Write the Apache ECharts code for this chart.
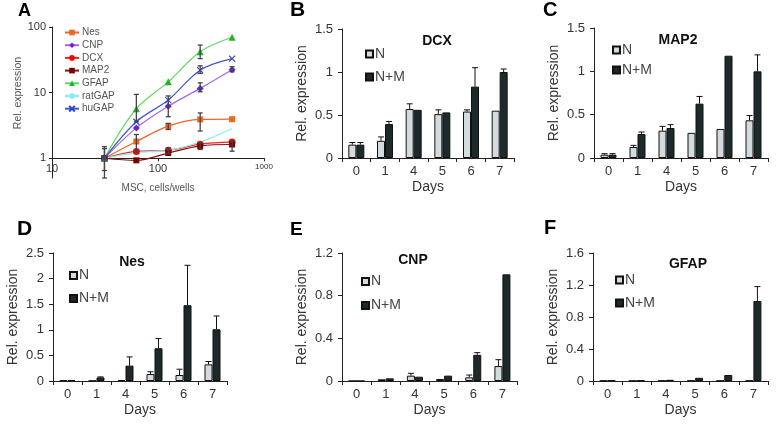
<!DOCTYPE html>
<html><head><meta charset="utf-8">
<script src="https://cdn.jsdelivr.net/npm/echarts/dist/echarts.min.js"></script>
<style>html,body{margin:0;padding:0;background:#fff}#c{width:777px;height:425px}</style>
</head><body><div id="c"></div><script>
// ---------- DATA ----------
const msc = [31.25, 62.5, 125, 250, 500];
const nesA    = [1, 1.8, 3.08, 3.9, 3.94];
const cnpA    = [1, 2.9, 6.2, 11.6, 22.3];
const dcxA    = [1, 1.27, 1.32, 1.64, 1.77];
const map2A   = [1, 0.93, 1.2, 1.54, 1.62];
const gfapA   = [1, 5.7, 14.6, 42, 69.7];
const ratgapA = [1, 1.22, 1.32, 1.77, 2.84];
const hugapA  = [1, 3.6, 7.7, 22, 33];
// error bars panel A: [cells, low, high]
const errA = [[31.25,0.5,1.5],[31.25,0.65,1.4],[62.5,3.6,9.4],[62.5,1.25,2.3],[125,4.3,8.9],[125,1.18,1.44],[125,2.74,3.4],
  [250,33,53],[250,19.6,25.6],[250,10.3,14.1],[250,2.6,4.9],[250,1.36,1.71],[500,20.8,24.8],[500,1.28,1.84]];
const xTicksA = [10, 100, 1000];
const yTicksA = [1, 10, 100];

const days = ['0','1','4','5','6','7'];
const dcxN     = [0.155, 0.20, 0.57, 0.51, 0.54, 0.55];
const dcxNErr  = [0.18, 0.245, 0.63, 0.56, 0.56, null];
const dcxNM    = [0.155, 0.395, 0.56, 0.53, 0.83, 1.0];
const dcxNMErr = [0.18, 0.425, null, null, 1.05, 1.035];

const map2N     = [0.038, 0.127, 0.315, 0.29, 0.335, 0.435];
const map2NErr  = [0.05, 0.146, 0.365, null, null, 0.49];
const map2NM    = [0.038, 0.277, 0.346, 0.627, 1.18, 1.0];
const map2NMErr = [0.05, 0.30, 0.385, 0.71, null, 1.19];

const nesN     = [0.01, 0.005, 0.02, 0.136, 0.117, 0.325];
const nesNErr  = [null, null, null, 0.18, 0.23, 0.38];
const nesNM    = [0.02, 0.07, 0.3, 0.64, 1.48, 1.01];
const nesNMErr = [null, 0.08, 0.47, 0.83, 2.26, 1.27];

const cnpN     = [0, 0.016, 0.05, 0.019, 0.034, 0.14];
const cnpNErr  = [null, null, 0.072, null, 0.056, 0.2];
const cnpNM    = [0, 0.025, 0.04, 0.05, 0.245, 1.0];
const cnpNMErr = [null, null, null, null, 0.266, null];

const gfapN     = [0.005, 0.003, 0.005, 0.005, 0.005, 0.005];
const gfapNErr  = [null, null, null, null, null, null];
const gfapNM    = [0.008, 0.008, 0.015, 0.04, 0.075, 1.0];
const gfapNMErr = [null, null, null, null, null, 1.18];

// ---------- LAYOUT / STYLE ----------
const FONT = 'Liberation Sans, Arial, sans-serif';
const BW = 8;
const panels = [
  {grid:{left:342, top:29, width:172, height:129}, max:1.5, interval:0.5, title:'DCX', tx:437, ty:34, lg:[365,47], N:dcxN, NE:dcxNErr, M:dcxNM, ME:dcxNMErr, gap:9},
  {grid:{left:594, top:28, width:174, height:130}, max:1.5, interval:0.5, title:'MAP2', tx:678, ty:33, lg:[612,43], N:map2N, NE:map2NErr, M:map2NM, ME:map2NMErr, gap:6},
  {grid:{left:53, top:253, width:174, height:128}, max:2.5, interval:0.5, title:'Nes', tx:132, ty:255, lg:[69,268.5], N:nesN, NE:nesNErr, M:nesNM, ME:nesNMErr, gap:9},
  {grid:{left:342, top:253, width:175, height:128}, max:1.2, interval:0.4, title:'CNP', tx:413, ty:253, lg:[361,274.5], N:cnpN, NE:cnpNErr, M:cnpNM, ME:cnpNMErr, gap:10},
  {grid:{left:593, top:253, width:175, height:128}, max:1.6, interval:0.4, title:'GFAP', tx:688, ty:257, lg:[615,273], N:gfapN, NE:gfapNErr, M:gfapNM, ME:gfapNMErr, gap:9}
];
const gridA = {left:52, top:27, width:212, height:151};
const yMinA = 0.5, yMaxA = 100;
const offA = gridA.height * Math.log10(1 / yMinA) / Math.log10(yMaxA / yMinA);

const axisLine = {show:true, lineStyle:{color:'#222', width:1}};
const grids = [gridA].concat(panels.map(p => p.grid));
const xAxes = [{
  gridIndex:0, type:'log', logBase:10, min:xTicksA[0], max:xTicksA[2], offset:-offA,
  axisLine, axisTick:{show:true, length:3, lineStyle:{color:'#222'}}, splitLine:{show:false},
  axisLabel:{fontFamily:FONT, fontSize:11, color:'#333', margin:5,
    formatter: v => v === 1000 ? '{s|1000}' : String(v), rich:{s:{fontSize:8, fontFamily:FONT, color:'#333'}}},
  name:'MSC, cells/wells', nameLocation:'middle', nameGap:25,
  nameTextStyle:{fontFamily:FONT, fontSize:10, color:'#555'}
}];
const yAxes = [{
  gridIndex:0, type:'log', logBase:10, min:yMinA, max:yMaxA,
  axisLine, axisTick:{show:true, length:3, lineStyle:{color:'#222'}}, splitLine:{show:false},
  axisLabel:{fontFamily:FONT, fontSize:11, color:'#333', margin:6, showMinLabel:false},
  name:'Rel. expression', nameLocation:'middle', nameGap:21,
  nameTextStyle:{fontFamily:FONT, fontSize:10.5, color:'#555', padding:[0,0,0,19]}
}];
panels.forEach((p, k) => {
  xAxes.push({gridIndex:k+1, type:'category', data:days,
    axisLine, axisTick:{show:true, length:4, alignWithLabel:false, lineStyle:{color:'#222'}},
    axisLabel:{fontFamily:FONT, fontSize:13, color:'#333', margin:7},
    name:'Days', nameLocation:'middle', nameGap:22,
    nameTextStyle:{fontFamily:FONT, fontSize:14, color:'#333'}});
  yAxes.push({gridIndex:k+1, type:'value', min:0, max:p.max, interval:p.interval,
    axisLine, axisTick:{show:true, length:4, lineStyle:{color:'#222'}}, splitLine:{show:false},
    axisLabel:{fontFamily:FONT, fontSize:13, color:'#333', margin:9},
    name:'Rel. expression', nameLocation:'middle', nameGap:33,
    nameTextStyle:{fontFamily:FONT, fontSize:14, color:'#333'}});
});

// ---------- SERIES ----------
const xPath = 'path://M0 0L10 10M10 0L0 10';
const lineDefs = [
  ['Nes', nesA, '#f26522', '#f26522', 'rect', 6],
  ['CNP', cnpA, '#a866ec', '#6a22d8', 'diamond', 7],
  ['DCX', dcxA, '#ff2020', '#ff0000', 'circle', 7],
  ['MAP2', map2A, '#8a1010', '#7a0000', 'rect', 6],
  ['GFAP', gfapA, '#5fd85f', '#22b522', 'triangle', 7],
  ['ratGAP', ratgapA, '#86eef3', '#86eef3', 'none', 6],
  ['huGAP', hugapA, '#4455d0', '#3344cc', xPath, 6]
];
const series = lineDefs.map(([name, arr, lc, mc, sym, sz]) => ({
  name, type:'line', xAxisIndex:0, yAxisIndex:0, smooth:0.35,
  data: msc.map((x, i) => [x, arr[i]]),
  symbol: sym, symbolSize: sz, showSymbol: sym !== 'none',
  lineStyle:{color:lc, width:1.2},
  itemStyle:{color:mc, borderColor:mc, borderWidth: sym === xPath ? 1.2 : 0},
  z:2
}));
series.push({
  type:'custom', xAxisIndex:0, yAxisIndex:0, clip:false, silent:true, z:4,
  data: errA,
  renderItem(params, api) {
    const lo = api.coord([api.value(0), api.value(1)]);
    const hi = api.coord([api.value(0), api.value(2)]);
    const x = lo[0], st = {stroke:'#444', lineWidth:1.3};
    return {type:'group', children:[
      {type:'line', shape:{x1:x, y1:lo[1], x2:x, y2:hi[1]}, style:st},
      {type:'line', shape:{x1:x-2.5, y1:lo[1], x2:x+2.5, y2:lo[1]}, style:st},
      {type:'line', shape:{x1:x-2.5, y1:hi[1], x2:x+2.5, y2:hi[1]}, style:st}
    ]};
  }
});
function errSeries(k, vals, tops, side) {
  return {
    type:'custom', xAxisIndex:k, yAxisIndex:k, clip:false, silent:true, z:5,
    data: vals.map((v, i) => [i, v, tops[i]]).filter(d => d[2] != null),
    renderItem(params, api) {
      const b = api.coord([api.value(0), api.value(1)]);
      const t = api.coord([api.value(0), api.value(2)]);
      const x = b[0] + side * BW / 2, st = {stroke:'#111', lineWidth:1};
      return {type:'group', children:[
        {type:'line', shape:{x1:x, y1:b[1], x2:x, y2:t[1]}, style:st},
        {type:'line', shape:{x1:x-3, y1:t[1], x2:x+3, y2:t[1]}, style:st}
      ]};
    }
  };
}
const legends = [{
  data: lineDefs.map(d => d[0]), orient:'vertical', left:64, top:27.5, padding:0,
  itemWidth:14, itemHeight:7, itemGap:2.7,
  textStyle:{fontFamily:FONT, fontSize:10, color:'#555', padding:[0,0,0,-2]}
}];
panels.forEach((p, k) => {
  const ax = k + 1;
  series.push({name:'N', type:'bar', xAxisIndex:ax, yAxisIndex:ax, data:p.N, barWidth:BW, barGap:'0%',
    itemStyle:{color:'#d4dbde', borderColor:'#111', borderWidth:1}, z:3});
  series.push({name:'N+M', type:'bar', xAxisIndex:ax, yAxisIndex:ax, data:p.M, barWidth:BW, barGap:'0%',
    itemStyle:{color:'#1d2a2c', borderColor:'#111', borderWidth:1}, z:3});
  series.push(errSeries(ax, p.N, p.NE, -1));
  series.push(errSeries(ax, p.M, p.ME, 1));
  legends.push({data:['N','N+M'], orient:'vertical', left:p.lg[0], top:p.lg[1], padding:0,
    itemWidth:7, itemHeight:7, itemGap:p.gap, icon:'rect',
    textStyle:{fontFamily:FONT, fontSize:14, color:'#444', padding:[0,0,0,-3]}});
});

const letter = (t, l, tp, fs) => ({text:t, left:l, top:tp, padding:0,
  textStyle:{fontFamily:FONT, fontSize:fs, fontWeight:'bold', color:'#000'}});
const titles = [
  letter('A', 18, 2, 18), letter('B', 290, 0, 21), letter('C', 543, 0, 20),
  letter('D', 17, 219, 21), letter('E', 290, 220, 19), letter('F', 544, 218, 20)
].concat(panels.map(p => ({text:p.title, left:p.tx, top:p.ty, padding:0, textAlign:'center',
  textStyle:{fontFamily:FONT, fontSize:14, fontWeight:'bold', color:'#111'}})));

const chart = echarts.init(document.getElementById('c'), null, {renderer:'canvas'});
chart.setOption({
  animation:false, backgroundColor:'#fff',
  title: titles, legend: legends, grid: grids, xAxis: xAxes, yAxis: yAxes, series
});
</script></body></html>
